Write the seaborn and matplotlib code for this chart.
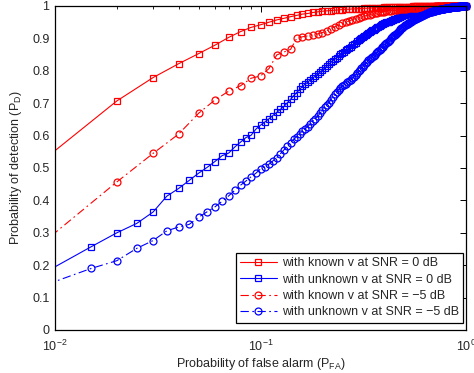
import numpy as np
import pandas as pd
import matplotlib
matplotlib.use("Agg")
import matplotlib.pyplot as plt
from matplotlib.ticker import FuncFormatter, LogLocator, FixedLocator
from matplotlib.transforms import Bbox, TransformedBbox
import seaborn as sns

# ---------------------------------------------------------------------------
# ROC data: probability of detection vs. probability of false alarm
# ---------------------------------------------------------------------------
# false-alarm sweep for the known-v detector (coarse grid)
pfa_known = np.concatenate([[0.005], np.round(np.arange(0.02, 1.0001, 0.01), 3)])
# false-alarm sweep for the unknown-v detector (fine grid)
pfa_unknown = np.concatenate([[0.005], np.round(np.arange(0.015, 1.0001, 0.005), 3)])

pd_known_0dB = [
    0.400,
    0.707, 0.779, 0.822, 0.853, 0.879, 0.903, 0.921, 0.934, 0.942,
    0.950, 0.957, 0.962, 0.967, 0.971, 0.975, 0.977, 0.980, 0.982, 0.984,
    0.985, 0.986, 0.987, 0.988, 0.989, 0.990, 0.990, 0.991, 0.991, 0.992,
    0.992, 0.993, 0.993, 0.994, 0.994, 0.994, 0.995, 0.995, 0.995, 0.996,
    0.996, 0.996, 0.996, 0.997, 0.997, 0.997, 0.997, 0.997, 0.998, 0.998,
    0.998, 0.998, 0.998, 0.998, 0.999, 0.999, 0.999, 0.999, 0.999, 0.999,
    0.999, 0.999, 0.999, 0.999, 0.999, 0.999, 0.999, 0.999, 0.999, 0.999,
    1.000, 1.000, 1.000, 1.000, 1.000, 1.000, 1.000, 1.000, 1.000, 1.000,
    1.000, 1.000, 1.000, 1.000, 1.000, 1.000, 1.000, 1.000, 1.000, 1.000,
    1.000, 1.000, 1.000, 1.000, 1.000, 1.000, 1.000, 1.000, 1.000, 1.000,
]

pd_known_m5dB = [
    0.143,
    0.457, 0.545, 0.605, 0.669, 0.710, 0.737, 0.754, 0.777, 0.784,
    0.807, 0.849, 0.858, 0.866, 0.900, 0.905, 0.908, 0.911, 0.914, 0.918,
    0.924, 0.930, 0.936, 0.941, 0.946, 0.950, 0.954, 0.958, 0.961, 0.964,
    0.967, 0.969, 0.971, 0.973, 0.975, 0.977, 0.978, 0.980, 0.981, 0.983,
    0.984, 0.985, 0.986, 0.987, 0.988, 0.989, 0.990, 0.990, 0.991, 0.992,
    0.992, 0.993, 0.993, 0.994, 0.994, 0.995, 0.995, 0.995, 0.996, 0.996,
    0.996, 0.997, 0.997, 0.997, 0.997, 0.998, 0.998, 0.998, 0.998, 0.998,
    0.999, 0.999, 0.999, 0.999, 0.999, 0.999, 0.999, 0.999, 0.999, 0.999,
    1.000, 1.000, 1.000, 1.000, 1.000, 1.000, 1.000, 1.000, 1.000, 1.000,
    1.000, 1.000, 1.000, 1.000, 1.000, 1.000, 1.000, 1.000, 1.000, 1.000,
]

pd_unknown_0dB = [
    0.089,
    0.257, 0.300, 0.329, 0.364, 0.413, 0.437, 0.462, 0.484, 0.502,
    0.520, 0.538, 0.546, 0.565, 0.580, 0.594, 0.601, 0.620,
    # 0.100 .. 0.600
    0.632, 0.642, 0.652, 0.662, 0.672, 0.681, 0.690, 0.701, 0.712, 0.723,
    0.733, 0.743, 0.752, 0.759, 0.765, 0.772, 0.778, 0.784, 0.790, 0.796,
    0.802, 0.808, 0.814, 0.820, 0.826, 0.831, 0.836, 0.841, 0.846, 0.851,
    0.855, 0.859, 0.863, 0.867, 0.871, 0.875, 0.879, 0.883, 0.887, 0.891,
    0.895, 0.898, 0.901, 0.904, 0.907, 0.910, 0.913, 0.916, 0.919, 0.922,
    0.925, 0.927, 0.929, 0.932, 0.934, 0.936, 0.938, 0.940, 0.943, 0.945,
    0.947, 0.948, 0.950, 0.951, 0.952, 0.953, 0.955, 0.956, 0.957, 0.959,
    0.960, 0.961, 0.962, 0.964, 0.965, 0.966, 0.967, 0.968, 0.970, 0.971,
    0.972, 0.973, 0.974, 0.975, 0.975, 0.976, 0.977, 0.978, 0.979, 0.979,
    0.980, 0.981, 0.981, 0.982, 0.983, 0.983, 0.984, 0.984, 0.985, 0.985,
    0.986,
    # 0.605 .. 1.000
    0.986, 0.987, 0.987, 0.988, 0.988, 0.988, 0.989, 0.989, 0.990, 0.990,
    0.990, 0.990, 0.991, 0.991, 0.991, 0.992, 0.992, 0.992, 0.993, 0.993,
    0.993, 0.994, 0.994, 0.994, 0.994, 0.995, 0.995, 0.995, 0.995, 0.995,
    0.996, 0.996, 0.996, 0.996, 0.996, 0.996, 0.997, 0.997, 0.997, 0.997,
    0.997, 0.997, 0.997, 0.998, 0.998, 0.998, 0.998, 0.998, 0.998, 0.998,
    0.998, 0.999, 0.999, 0.999, 0.999, 0.999, 0.999, 0.999, 0.999, 0.999,
    0.999, 0.999, 0.999, 0.999, 0.999, 0.999, 0.999, 0.999, 0.999, 0.999,
    1.000, 1.000, 1.000, 1.000, 1.000, 1.000, 1.000, 1.000, 1.000, 1.000,
]

pd_unknown_m5dB = [
    0.081,
    0.190, 0.214, 0.252, 0.276, 0.306, 0.318, 0.326, 0.348, 0.365,
    0.380, 0.397, 0.414, 0.431, 0.447, 0.460, 0.473, 0.484,
    # 0.100 .. 0.750
    0.497, 0.504, 0.512, 0.522, 0.532, 0.544, 0.556, 0.567, 0.578, 0.588,
    0.597, 0.606, 0.614, 0.621, 0.628, 0.637, 0.645, 0.652, 0.660, 0.669,
    0.678, 0.687, 0.695, 0.702, 0.710, 0.719, 0.727, 0.735, 0.742, 0.747,
    0.752, 0.756, 0.760, 0.764, 0.768, 0.772, 0.777, 0.782, 0.787, 0.793,
    0.798, 0.803, 0.808, 0.813, 0.818, 0.823, 0.827, 0.832, 0.836, 0.840,
    0.843, 0.847, 0.850, 0.854, 0.857, 0.861, 0.864, 0.868, 0.872, 0.875,
    0.879, 0.882, 0.886, 0.889, 0.893, 0.896, 0.900, 0.903, 0.906, 0.909,
    0.912, 0.915, 0.918, 0.921, 0.923, 0.926, 0.928, 0.931, 0.933, 0.936,
    0.938, 0.940, 0.942, 0.944, 0.945, 0.947, 0.949, 0.951, 0.952, 0.954,
    0.956, 0.957, 0.958, 0.959, 0.961, 0.962, 0.963, 0.964, 0.966, 0.967,
    0.968, 0.969, 0.970, 0.971, 0.972, 0.973, 0.974, 0.975, 0.976, 0.977,
    0.978, 0.979, 0.980, 0.981, 0.982, 0.982, 0.983, 0.984, 0.984, 0.985,
    0.985, 0.986, 0.986, 0.987, 0.987, 0.988, 0.988, 0.989, 0.989, 0.990,
    0.990,
    # 0.755 .. 1.000
    0.990, 0.991, 0.991, 0.991, 0.992, 0.992, 0.992, 0.993, 0.993, 0.993,
    0.994, 0.994, 0.994, 0.994, 0.995, 0.995, 0.995, 0.995, 0.996, 0.996,
    0.996, 0.996, 0.996, 0.997, 0.997, 0.997, 0.997, 0.997, 0.998, 0.998,
    0.998, 0.998, 0.998, 0.998, 0.999, 0.999, 0.999, 0.999, 0.999, 0.999,
    0.999, 0.999, 1.000, 1.000, 1.000, 1.000, 1.000, 1.000, 1.000, 1.000,
]

labels = [
    "with known v at SNR = 0 dB",
    "with unknown v at SNR = 0 dB",
    "with known v at SNR = \u22125 dB",
    "with unknown v at SNR = \u22125 dB",
]

x_ticks = [0.01, 0.1, 1.0]
y_ticks = [0, 0.1, 0.2, 0.3, 0.4, 0.5, 0.6, 0.7, 0.8, 0.9, 1.0]

series = [
    (pfa_known, pd_known_0dB, labels[0]),
    (pfa_unknown, pd_unknown_0dB, labels[1]),
    (pfa_known, pd_known_m5dB, labels[2]),
    (pfa_unknown, pd_unknown_m5dB, labels[3]),
]
for xs, ys, name in series:
    if len(xs) != len(ys):
        raise ValueError(f"{name}: {len(xs)} vs {len(ys)}")

frames = [pd.DataFrame({"pfa": xs, "pd": ys, "curve": name}) for xs, ys, name in series]
df = pd.concat(frames, ignore_index=True)

# ---------------------------------------------------------------------------
# styling
# ---------------------------------------------------------------------------
sns.set_theme(style="white")
plt.rcParams.update({
    "font.family": ["Liberation Sans", "DejaVu Sans"],
    "mathtext.fontset": "custom",
    "mathtext.rm": "Liberation Sans",
    "mathtext.it": "Liberation Sans:italic",
    "mathtext.bf": "Liberation Sans:bold",
    "font.size": 9,
    "axes.edgecolor": "black",
    "axes.linewidth": 0.9,
    "xtick.color": "black",
    "ytick.color": "black",
    "text.color": "#262626",
    "axes.labelcolor": "#262626",
    "lines.scale_dashes": False,
})

dashdot = (0, (6, 2.5, 1.2, 2.5))
styles = {
    labels[0]: dict(color="#ff0000", marker="s", ms=4.6, linestyle="-"),
    labels[1]: dict(color="#0000ff", marker="s", ms=4.6, linestyle="-"),
    labels[2]: dict(color="#ff0000", marker="o", ms=5.0, linestyle=dashdot),
    labels[3]: dict(color="#0000ff", marker="o", ms=5.0, linestyle=dashdot),
}

fig = plt.figure(figsize=(4.74, 3.73), dpi=100)
ax = fig.add_axes([55 / 474, 43 / 373, 411 / 474, 324 / 373])

for name in labels:
    st = styles[name]
    sns.lineplot(
        data=df[df["curve"] == name], x="pfa", y="pd", ax=ax,
        estimator=None, sort=False, label=name,
        color=st["color"], marker=st["marker"], markersize=st["ms"],
        markerfacecolor="none", markeredgecolor=st["color"],
        markeredgewidth=0.9, linewidth=0.8, linestyle=st["linestyle"],
    )

ax.set_xscale("log")
ax.set_xlim(0.01, 1.0)
ax.set_ylim(0, 1)

# let markers on the top/right limits spill over the frame, but keep the
# left edge clipped
clip = TransformedBbox(Bbox([[0.0, -0.03], [1.03, 1.03]]), ax.transAxes)
for ln in ax.lines:
    ln.set_clip_box(clip)

ax.xaxis.set_major_locator(FixedLocator(x_ticks))
ax.xaxis.set_minor_locator(LogLocator(base=10, subs=np.arange(2, 10)))
ax.yaxis.set_major_locator(FixedLocator(y_ticks))
ax.yaxis.set_major_formatter(FuncFormatter(lambda v, p: f"{v:g}"))

ax.tick_params(which="both", direction="in", top=True, right=True,
               labelsize=9, colors="black", labelcolor="#262626")
ax.tick_params(which="major", length=4, width=0.7)
ax.tick_params(axis="x", which="major", pad=6)
ax.tick_params(axis="y", which="major", pad=4)
ax.tick_params(which="minor", length=2.2, width=0.6)
for sp in ax.spines.values():
    sp.set_visible(True)
    sp.set_color("black")

ax.set_xlabel(r"Probability of false alarm (P$_{\mathrm{FA}}$)", fontsize=9, labelpad=2)
ax.set_ylabel(r"Probability of detection (P$_{\mathrm{D}}$)", fontsize=9, labelpad=6)

leg = ax.legend(
    loc="lower right", bbox_to_anchor=(0.993, 0.022), borderaxespad=0,
    fontsize=9, frameon=True, fancybox=False, framealpha=1,
    edgecolor="black", handlelength=2.9, handletextpad=0.4,
    labelspacing=0.35, borderpad=0.35,
)
leg.get_frame().set_linewidth(0.9)

fig.savefig("out.png", dpi=100)
